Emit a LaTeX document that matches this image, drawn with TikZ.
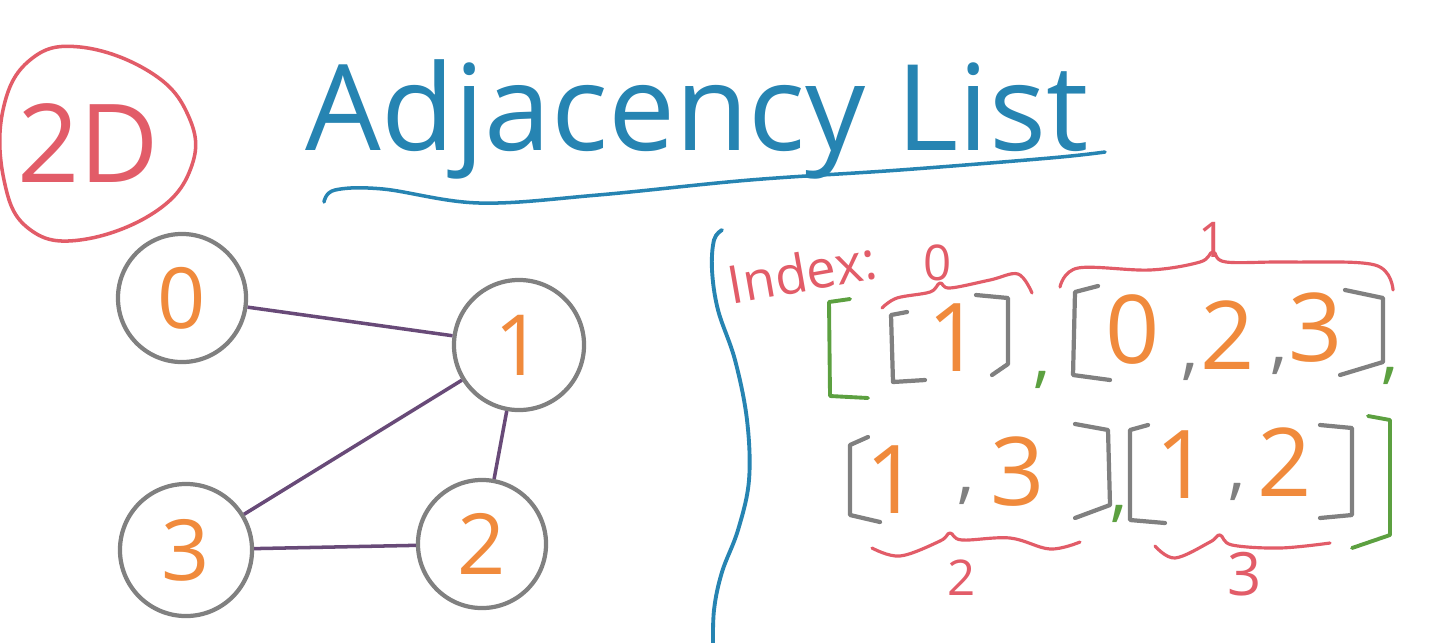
\documentclass[tikz,border=0pt]{standalone}
\usepackage{fontspec}
\setmainfont{Open Sans}
\definecolor{hred}{RGB}{226,92,104}
\definecolor{hblue}{RGB}{38,132,178}
\definecolor{horange}{RGB}{240,138,60}
\definecolor{hgray}{RGB}{128,128,128}
\definecolor{hpurple}{RGB}{104,74,120}
\definecolor{hgreen}{RGB}{92,160,64}
\begin{document}
\begin{tikzpicture}[x=0.01cm,y=-0.01cm,
  vert/.style={circle, draw=hgray, line width=1.2pt, inner sep=0pt, text=horange, font=\fontsize{24}{24}\selectfont},
  edgeline/.style={hpurple, line width=1pt},
  brk/.style={hgray, line width=1.2pt, line cap=round, line join=round},
  gbrk/.style={hgreen, line width=1.1pt, line cap=round, line join=round},
  rbrace/.style={hred, line width=0.9pt, line cap=round, line join=round},
  num/.style={text=horange, inner sep=0pt, font=\fontsize{27}{27}\selectfont},
  gcomma/.style={text=hgray, inner sep=0pt, font=\fontsize{20}{20}\selectfont},
  ggcomma/.style={text=hgreen, inner sep=0pt, font=\fontsize{20}{20}\selectfont},
  idx/.style={text=hred, inner sep=0pt, font=\fontsize{14}{14}\selectfont}]
\useasboundingbox (0,0) rectangle (1431,642);
\fill[white] (0,0) rectangle (1431,642);

% 2D badge
\draw[hred, line width=1pt] plot[smooth cycle, tension=0.7] coordinates
  {(80,47) (150,72) (188,115) (192,165) (155,212) (80,240) (28,228) (4,180) (3,110) (30,60)};
\node[text=hred, inner sep=0pt, font=\fontsize{31}{31}\selectfont] (badge) at (88,143) {2D};

% title
\node[text=hblue, inner sep=0pt, anchor=base, font=\fontsize{34}{34}\selectfont] (title) at (697,150) {Adjacency List};
\draw[hblue, line width=1pt, line cap=round] plot[smooth, tension=0.6] coordinates
  {(324,202) (335,190) (383,189) (479,203) (598,195) (750,180) (900,170) (1050,158) (1105,152)};

% graph
\node[vert, minimum size=1.28cm] (n0) at (182,298) {0};
\node[vert, minimum size=1.30cm] (n1) at (519,345) {1};
\node[vert, minimum size=1.28cm] (n2) at (482,544) {2};
\node[vert, minimum size=1.32cm] (n3) at (186,550) {3};
\draw[edgeline] (n0) -- (n1);
\draw[edgeline] (n1) -- (n3);
\draw[edgeline] (n1) -- (n2);
\draw[edgeline] (n3) -- (n2);

% blue divider
\draw[hblue, line width=1.1pt, line cap=round] plot[smooth, tension=0.6] coordinates
  {(722,230) (714,240) (712,270) (718,310) (735,360) (747,420) (749,480) (738,530) (722,572) (714,610) (713,650)};

% Index label
\node[text=hred, inner sep=0pt, rotate=10, font=\fontsize{15}{15}\selectfont] (index) at (802,272) {Index:};

% outer green brackets
\draw[gbrk] (850,299) -- (829,302) -- (830,396) -- (868,398);
\draw[gbrk] (1368,416) -- (1390,420) -- (1390,535) -- (1352,548);

% [1]
\draw[brk] (907,312) -- (891,315) -- (893,382) -- (925,380);
\draw[brk] (976,295) -- (1008,298) -- (1008,364) -- (992,375);
\node[num] (a1) at (955,338) {1};
\node[ggcomma] (c1) at (1042,380) {,};

% [0,2,3]
\draw[brk] (1098,286) -- (1075,292) -- (1073,375) -- (1110,380);
\draw[brk] (1345,290) -- (1383,298) -- (1383,362) -- (1340,375);
\node[num] (b0) at (1133,330) {0};
\node[gcomma] (bc1) at (1190,372) {,};
\node[num] (b2) at (1228,335) {2};
\node[gcomma] (bc2) at (1279,366) {,};
\node[num] (b3) at (1316,328) {3};
\node[ggcomma] (c2) at (1390,376) {,};

% [1,3]
\draw[brk] (868,437) -- (850,445) -- (850,515) -- (880,522);
\draw[brk] (1075,424) -- (1108,430) -- (1110,505) -- (1075,518);
\node[num] (d1) at (893,480) {1};
\node[gcomma] (dc) at (966,496) {,};
\node[num] (d3) at (1018,472) {3};
\node[ggcomma] (c3) at (1119,514) {,};

% [1,2]
\draw[brk] (1148,425) -- (1130,430) -- (1130,520) -- (1165,523);
\draw[brk] (1320,425) -- (1352,428) -- (1352,515) -- (1320,518);
\node[num] (e1) at (1183,465) {1};
\node[gcomma] (ec) at (1237,492) {,};
\node[num] (e2) at (1285,462) {2};

% index braces
\draw[rbrace] plot[smooth, tension=0.6] coordinates
  {(882,308) (897,298) (930,292) (940,283) (950,288) (990,280) (1018,274) (1032,293)};
\node[idx] (i0) at (938,263) {0};
\draw[rbrace] plot[smooth, tension=0.6] coordinates
  {(1060,287) (1078,268) (1150,270) (1200,262) (1213,252) (1226,262) (1290,262) (1375,265) (1393,290)};
\node[idx] (i1) at (1213,240) {1};
\draw[rbrace] plot[smooth, tension=0.6] coordinates
  {(872,548) (900,556) (940,541) (950,533) (962,540) (1010,538) (1050,549) (1080,542)};
\node[idx] (i2) at (962,578) {2};
\draw[rbrace] plot[smooth, tension=0.6] coordinates
  {(1155,546) (1175,558) (1210,542) (1220,535) (1232,545) (1280,548) (1330,543)};
\node[idx, font=\fontsize{17}{17}\selectfont] (i3) at (1245,574) {3};
\end{tikzpicture}
\end{document}
